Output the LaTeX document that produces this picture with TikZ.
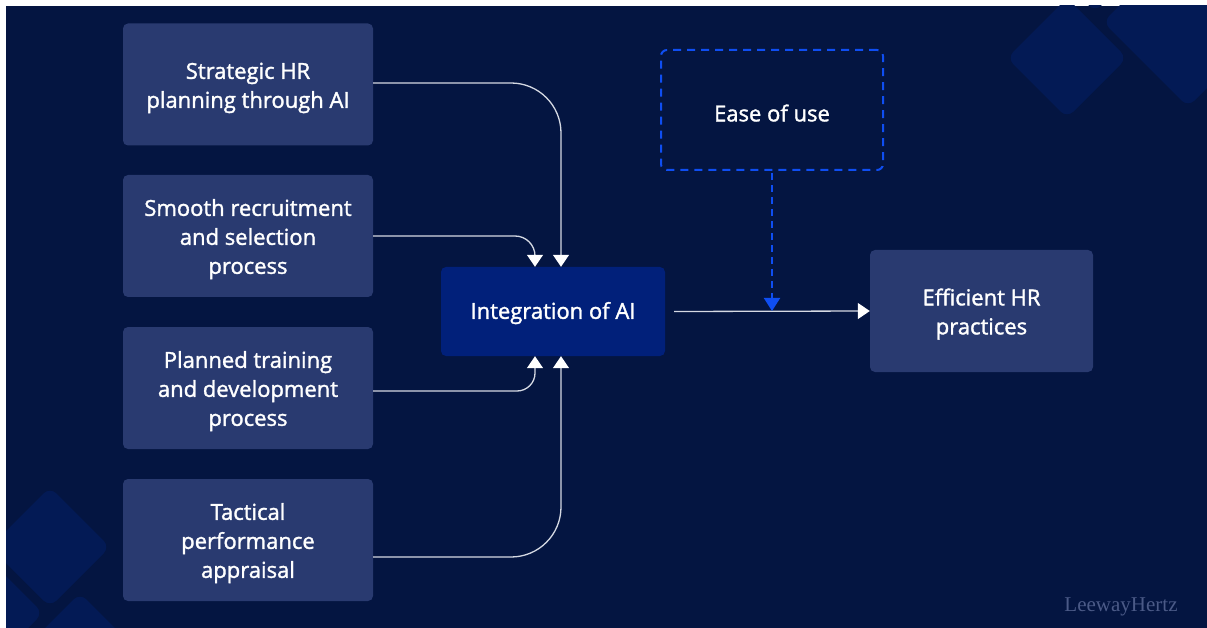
\documentclass[tikz,border=0pt]{standalone}
\usepackage{fontspec}
\setmainfont{Open Sans}
\newfontfamily\semib{Open Sans}[FakeBold=1.5]
\newfontfamily\logofont{Liberation Serif}
\usetikzlibrary{arrows.meta,calc}
\definecolor{bgc}{HTML}{041541}
\definecolor{boxc}{HTML}{293A70}
\definecolor{aic}{HTML}{01207A}
\definecolor{diamc}{HTML}{031A55}
\definecolor{dashc}{HTML}{0F4EF2}
\definecolor{linec}{HTML}{D5D9E3}
\definecolor{logoc}{HTML}{4B5A87}
\newcommand\tup{\rule{0pt}{23pt}}
\tikzset{
  txt/.style={text=white, font=\semib\fontsize{22}{29}\selectfont, align=center, inner sep=0pt},
  sidebox/.style={txt, fill=boxc, rounded corners=5pt, minimum width=250pt, minimum height=122pt},
  aibox/.style={txt, fill=aic, rounded corners=5pt, minimum width=224pt, minimum height=89pt},
  easebox/.style={txt, draw=dashc, line width=2pt, dash pattern=on 8pt off 6pt, rounded corners=6pt, minimum width=222pt, minimum height=120pt},
  conn/.style={draw=linec, line width=1.3pt, -{Triangle[width=16pt,length=12pt,fill=white,color=white]}},
  dconn/.style={draw=dashc, line width=2pt, dash pattern=on 7pt off 5pt, -{Triangle[width=16pt,length=13pt,fill=dashc,color=dashc]}},
  diam/.style={fill=diamc, rounded corners=9pt}
}
\begin{document}
\begin{tikzpicture}[x=1pt,y=-1pt]
\useasboundingbox (0,0) rectangle (1207,628);
\fill[white] (0,0) rectangle (1207,628);
\fill[bgc] (6,6) rectangle (1207,628);
\begin{scope}
\clip (6,6) rectangle (1207,628);
\fill[diam] (1007,58) -- (1067,-2) -- (1127,58) -- (1067,118) -- cycle;
\fill[diam] (1103,22) -- (1188,-63) -- (1273,22) -- (1188,107) -- cycle;
\fill[diam] (1040,-45) -- (1095,-100) -- (1150,-45) -- (1095,12) -- cycle;
\fill[diam] (-10,547) -- (50,487) -- (110,547) -- (50,607) -- cycle;
\fill[diam] (20,653) -- (80,593) -- (140,653) -- (80,713) -- cycle;
\fill[diam] (-77,613) -- (-17,553) -- (43,613) -- (-17,673) -- cycle;
\end{scope}

\node[sidebox] (b1) at (248,84.5) {\tup Strategic HR\\planning through AI};
\node[sidebox] (b2) at (248,236) {\tup Smooth recruitment\\and selection\\process};
\node[sidebox] (b3) at (248,388) {\tup Planned training\\and development\\process};
\node[sidebox] (b4) at (248,540) {\tup Tactical\\performance\\appraisal};
\node[aibox] (ai) at (553,311.5) {\rule{0pt}{20pt}Integration of AI};
\node[sidebox, minimum width=223pt] (eff) at (981.5,311) {\tup Efficient HR\\practices};
\node[easebox] (ease) at (772,110) {\tup Ease of use};
\node[font=\logofont\fontsize{21}{23}\selectfont, text=logoc] (logo) at (1121,607) {LeewayHertz};

\draw[conn, rounded corners=50pt] ([yshift=1.5pt]b1.east) -| ([xshift=8pt]ai.north);
\draw[conn, rounded corners=20pt] (b2.east) -| ([xshift=-18pt]ai.north);
\draw[conn, rounded corners=18pt] ([yshift=-3pt]b3.east) -| ([xshift=-18pt]ai.south);
\draw[conn, rounded corners=50pt] ([yshift=-17pt]b4.east) -| ([xshift=8pt]ai.south);
\draw[conn] ([xshift=9pt]ai.east) -- (eff.west);
\coordinate (meet) at (ease.south |- eff.west);
\draw[dconn] ([yshift=-2pt]ease.south) -- (meet);
\end{tikzpicture}
\end{document}
